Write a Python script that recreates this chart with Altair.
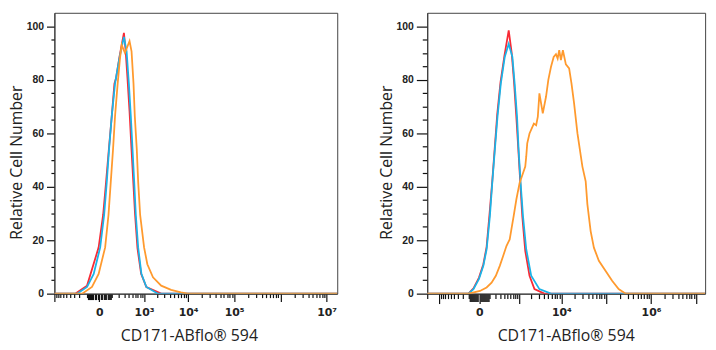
import altair as alt
import pandas as pd

# ---------------- data ----------------
# Left panel
L_red_x = [-1000, -277, -100, -3.5, 26, 49, 74, 104, 136, 157, 213, 291, 327, 373, 424, 475, 530, 594, 687, 848, 1138, 2514, 17000000]
L_red_y = [0, 0, 3, 17.3, 29.5, 41.8, 54, 66.3, 78.5, 80.5, 89, 97.5, 91, 80, 68, 55, 43, 30, 17, 7.4, 2.5, 0, 0]

L_blue_x = [-1000, -240, -100, -38, 6, 33.5, 55, 76, 104, 144, 208, 291, 350, 406, 460, 511, 566, 623, 716, 863, 1138, 2118, 17000000]
L_blue_y = [0, 0, 2.5, 7.4, 17.3, 29.5, 41.8, 54, 66.3, 78.5, 88, 96, 90.6, 78.5, 66.3, 54, 41.8, 29.5, 17.3, 7.4, 2.5, 0, 0]

L_orange_x = [-1000, -161, -52, -3.5, 41.3, 70.7, 93.5, 119, 144, 181, 218, 247, 312, 424, 481, 543, 587, 660, 716, 802, 1003, 1201, 1630, 2514, 4190, 6940, 9700, 17000000]
L_orange_y = [0, 0, 2.5, 7.4, 17.3, 29.5, 41.8, 54, 66.3, 78.5, 88, 93, 90, 94.4, 90.6, 78.5, 66.3, 54, 41.8, 29.5, 17.3, 11, 6.1, 3, 1.4, 0.5, 0, 0]

# Right panel
R_red_x = [-2000, -109.5, -51, -1.5, 35.6, 69.5, 105.6, 143, 184.5, 228, 297, 397, 531, 643, 746, 857, 964, 1083, 1215, 1439, 1827, 2397, 4083, 16000000]
R_red_y = [0, 0, 2, 6, 11, 17.5, 30, 42, 55, 67, 79, 89, 98.4, 90, 79, 66, 54, 41.5, 29, 16, 6.7, 1.7, 0, 0]

R_blue_x = [-2000, -109.5, -51, -1.5, 35.6, 69.5, 109.5, 143, 184.5, 233.6, 304, 406, 531, 672, 773, 893, 981, 1102, 1265, 1521, 2005, 3133, 5798, 16000000]
R_blue_y = [0, 0, 1.7, 5.5, 10.4, 16.6, 29, 41.4, 53.8, 66.2, 78.5, 88.5, 93.4, 88.5, 78.5, 66.2, 53.8, 41.4, 29, 16.6, 6.7, 1.7, 0, 0]

R_orange_x = [-2000, -109.5, 6.2, 69.5, 133, 202, 281, 362, 456, 566, 631, 727, 857, 1040, 1265, 1439, 1521, 1609, 1827, 2322,
              2628, 2878, 3133, 3753, 4464, 5036, 5798, 6671, 7518, 8205, 8916, 9735, 10785, 12585, 14910, 16860, 19260,
              22920, 29580, 35010, 38180, 45180, 53430, 68910, 96830, 136110, 190400, 267450, 16000000]
R_orange_y = [0, 0, 1, 2.3, 4.1, 6.7, 10.4, 14.1, 17.8, 20.3, 24, 29, 35.2, 41.4, 45, 47.5, 51.2, 56.2, 59.9, 63.6,
              63, 66.2, 74.9, 67.4, 73.7, 79.9, 84.8, 88.5, 89.5, 87.9, 91, 87.3, 91, 85.7, 84.2, 78.5, 71.1,
              59.9, 47.5, 42, 33.5, 23.4, 17.2, 12.3, 8.6, 4.8, 1.7, 0.1, 0]

SERIES = ["red", "blue", "orange"]
COLORS = {"red": "#f82a35", "blue": "#1ab4e8", "orange": "#ff9a2e"}

# axis ticks / labels
MAJOR_TICKS = [-1000, 0, 1000, 10000, 100000, 1000000, 10000000]
NEAR_ZERO_TICKS = [-90, -80, -70, -60, -50, -40, -30, -20, -10, 10, 20, 30, 40, 50, 60, 70, 80, 90]
MINOR_TICKS = ([-2000] + [-m * 100 for m in range(1, 10)] + [m * 100 for m in range(1, 10)]
               + [m * 10 ** e for e in range(3, 7) for m in range(2, 10)])
L_LABEL_VALUES = [0, 1000, 10000, 100000, 10000000]
L_LABEL_TEXT = ["0", "10³", "10⁴", "10⁵", "10⁷"]
R_LABEL_VALUES = [0, 10000, 1000000]
R_LABEL_TEXT = ["0", "10⁴", "10⁶"]
Y_TICKS = list(range(0, 101, 5))

X_TITLE = "CD171-ABflo® 594"
Y_TITLE = "Relative Cell Number"


def make_df(xs, ys):
    rows = []
    for s, (x, y) in zip(SERIES, zip(xs, ys)):
        for a, b in zip(x, y):
            rows.append({"series": s, "x": a, "y": b})
    return pd.DataFrame(rows)


def label_expr(vals, texts):
    parts = []
    for v, t in zip(vals, texts):
        parts.append(f"datum.value === {v} ? '{t}' : ")
    return "".join(parts) + "''"


def panel(df, domain, const, lab_vals, lab_text, w, h, xmaj, xmin, ymaj, ymin, xpad, title_x):
    ticks = sorted(set(MAJOR_TICKS + NEAR_ZERO_TICKS + MINOR_TICKS))
    ticks = [t for t in ticks if domain[0] <= t <= domain[1]]
    maj_test = "indexof(" + str(MAJOR_TICKS) + ", datum.value) >= 0"
    nz_test = "indexof(" + str(NEAR_ZERO_TICKS) + ", datum.value) >= 0"
    xaxis = alt.Axis(
        values=ticks,
        labelExpr=label_expr(lab_vals, lab_text),
        labelOverlap=False,
        labelFlush=False,
        labelBound=False,
        tickSize={"condition": [{"test": maj_test, "value": xmaj},
                                {"test": nz_test, "value": xmaj - 2}], "value": xmin},
        tickColor="#111",
        tickWidth=1.2,
        domainColor="#333",
        labelFont="DejaVu Sans",
        labelFontWeight="bold",
        labelFontSize=11,
        labelColor="#222",
        labelPadding=xpad,
        title=X_TITLE,
        titleFont="Open Sans",
        titleFontSize=16,
        titleFontWeight="normal",
        titleColor="#222",
        titlePadding=10,
        titleX=title_x,
        grid=False,
    )
    yaxis = alt.Axis(
        values=Y_TICKS,
        labelExpr="datum.value % 20 === 0 ? datum.label : ''",
        tickSize={"condition": {"test": "datum.value % 20 === 0", "value": ymaj}, "value": ymin},
        tickColor="#111",
        tickWidth=1.2,
        domainColor="#333",
        labelFont="Liberation Sans",
        labelFontWeight="bold",
        labelFontSize=10.5,
        labelColor="#222",
        labelPadding=3,
        title=Y_TITLE,
        titleFont="Open Sans",
        titleFontSize=16,
        titleFontWeight="normal",
        titleColor="#222",
        titlePadding=2,
        titleY=151,
        grid=False,
    )
    xs = alt.Scale(type="symlog", constant=const, domain=domain, nice=False, zero=False)
    ys = alt.Scale(domain=[0, 105], nice=False, zero=False)
    layers = []
    for s in SERIES:
        layers.append(
            alt.Chart(df).transform_filter(alt.datum.series == s)
            .mark_line(strokeWidth=1.8, color=COLORS[s], clip=True)
            .encode(x=alt.X("x:Q", scale=xs, axis=xaxis),
                    y=alt.Y("y:Q", scale=ys, axis=yaxis))
        )
    return alt.layer(*layers).properties(width=w, height=h)


left_df = make_df([L_red_x, L_blue_x, L_orange_x], [L_red_y, L_blue_y, L_orange_y])
right_df = make_df([R_red_x, R_blue_x, R_orange_x], [R_red_y, R_blue_y, R_orange_y])

left = panel(left_df, [-1000, 17000000], 120, L_LABEL_VALUES, L_LABEL_TEXT, 286, 284, 8, 4, 8, 3.5, 5, 136)
right = panel(right_df, [-2000, 16000000], 150, R_LABEL_VALUES, R_LABEL_TEXT, 281, 284, 10, 5, 11, 5, 3, 140)

chart = (
    alt.hconcat(left, right, spacing=39)
    .configure(padding={"left": 7, "top": 10, "right": 10, "bottom": 0})
    .configure_view(stroke="#444", strokeWidth=1)
)

chart.save("out.html", embed_options={"renderer": "svg", "actions": False})
